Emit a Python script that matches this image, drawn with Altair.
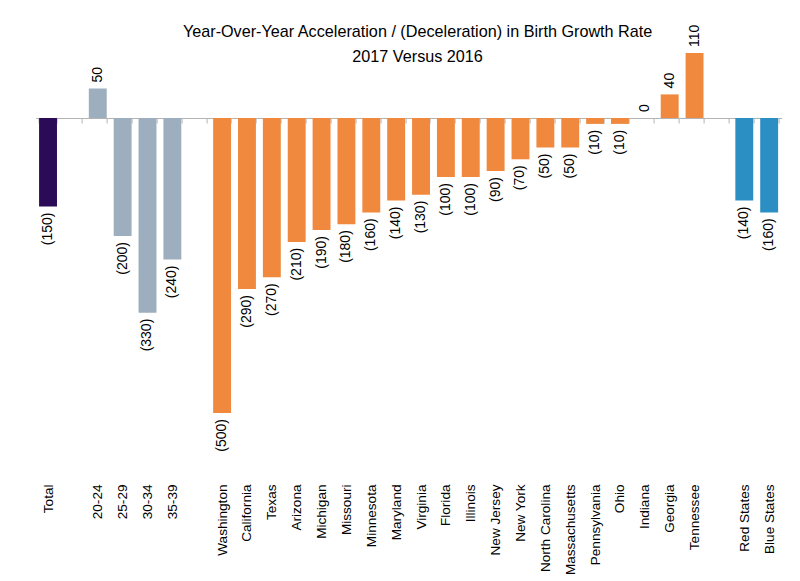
import altair as alt
import pandas as pd

categories = ["Total", "20-24", "25-29", "30-34", "35-39",
              "Washington", "California", "Texas", "Arizona", "Michigan", "Missouri",
              "Minnesota", "Maryland", "Virginia", "Florida", "Illinois", "New Jersey",
              "New York", "North Carolina", "Massachusetts", "Pennsylvania", "Ohio",
              "Indiana", "Georgia", "Tennessee", "Red States", "Blue States"]
values = [-150, 50, -200, -330, -240,
          -500, -290, -270, -210, -190, -180,
          -160, -140, -130, -100, -100, -90,
          -70, -50, -50, -10, -10,
          0, 40, 110, -140, -160]
groups = ["total"] + ["age"] * 4 + ["state"] * 20 + ["party"] * 2

# x slots, with blank separators between groups
slots = (["Total", " "] + categories[1:5] + ["  "] + categories[5:25] + ["   "]
         + categories[25:27])

group_domain = ["total", "age", "state", "party"]
group_colors = ["#2b0a57", "#9dafbe", "#f0883d", "#2c8fc4"]

df = pd.DataFrame({"cat": categories, "value": values, "group": groups})

W = 746
H = 442.5
YMIN, YMAX = -600, 150
zero_from_bottom = H * (0 - YMIN) / (YMAX - YMIN)

FONT = "Liberation Sans"

xenc = alt.X("cat:N", sort=slots,
             scale=alt.Scale(domain=slots, paddingInner=0.28, paddingOuter=0.14),
             axis=alt.Axis(title=None, orient="bottom", offset=-zero_from_bottom,
                           labelAngle=270, labelPadding=361, labelFontSize=13.6,
                           labelFont=FONT, labelColor="#000000",
                           domainColor="#b4b4b4", tickColor="#b4b4b4", tickSize=5,
                           tickBand="extent", grid=False, labelLimit=200))
yenc = alt.Y("value:Q", scale=alt.Scale(domain=[YMIN, YMAX], nice=False), axis=None)

base = alt.Chart(df).transform_calculate(
    label="datum.value < 0 ? '(' + abs(datum.value) + ')' : '' + datum.value"
)

bars = base.mark_bar(strokeWidth=0.8).encode(
    x=xenc,
    y=yenc,
    color=alt.Color("group:N", scale=alt.Scale(domain=group_domain, range=group_colors),
                    legend=None),
)

neg_labels = base.transform_filter("datum.value < 0").mark_text(
    angle=270, align="right", baseline="middle", dx=-6, fontSize=14, font=FONT,
    color="#000000"
).encode(x=alt.X("cat:N", sort=slots), y=yenc, text="label:N")

pos_labels = base.transform_filter("datum.value >= 0").mark_text(
    angle=270, align="left", baseline="middle", dx=6, fontSize=14, font=FONT,
    color="#000000"
).encode(x=alt.X("cat:N", sort=slots), y=yenc, text="label:N")

chart = alt.layer(bars, neg_labels, pos_labels).properties(
    width=W, height=H,
    title=alt.TitleParams(
        text=["Year-Over-Year Acceleration / (Deceleration) in Birth Growth Rate",
              "2017 Versus 2016"],
        fontSize=16.2, font=FONT, fontWeight="normal", color="#000000",
        lineHeight=25, baseline="alphabetic", offset=-53.5, dx=9, anchor="middle"),
    autosize=alt.AutoSizeParams(type="none"),
    padding={"left": 27.6, "top": 21.5, "right": 5, "bottom": 107},
).configure_view(strokeWidth=0)

chart.save("out.html", embed_options={"renderer": "svg", "actions": False})
